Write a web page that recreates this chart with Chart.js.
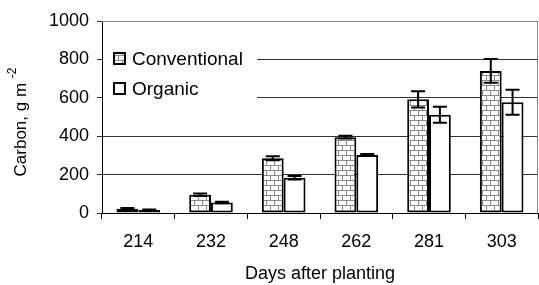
<!DOCTYPE html>
<html>
<head>
<meta charset="utf-8">
<script src="https://cdn.jsdelivr.net/npm/chart.js@4/dist/chart.umd.min.js"></script>
<style>
  html, body { margin: 0; padding: 0; background: #fff; }
  #wrap { width: 539px; height: 285px; }
</style>
</head>
<body>
<div id="wrap"><canvas id="barChart" width="539" height="285"></canvas></div>
<script>
// values (Carbon, g m-2)
var days = ["214", "232", "248", "262", "281", "303"];
var conventional = [22, 95, 285, 395, 592, 740];
var organic = [15, 55, 184, 302, 512, 577];
var convErr = [4, 7, 10, 7, 42, 62];
var orgErr = [3, 4, 9, 5, 42, 65];
var yTicks = [0, 200, 400, 600, 800, 1000];

var font = "'Liberation Sans', Arial, sans-serif";

/* brick pattern for the conventional bars */
function makeBrick() {
    var c = document.createElement('canvas');
    c.width = 16; c.height = 10;
    var g = c.getContext('2d');
    g.fillStyle = '#fff';
    g.fillRect(0, 0, 16, 10);
    g.fillStyle = '#8a8a8a';
    g.fillRect(0, 0, 16, 1);
    g.fillRect(0, 5, 16, 1);
    g.fillRect(2, 0, 1, 5);
    g.fillRect(10, 0, 1, 5);
    g.fillRect(6, 5, 1, 5);
    g.fillRect(14, 5, 1, 5);
    return g.createPattern(c, 'repeat');
}
var brick = makeBrick();

var errorBars = {
    id: 'errorBars',
    afterDatasetsDraw: function(chart) {
        var ctx = chart.ctx, y = chart.scales.y;
        var errs = [convErr, orgErr];
        ctx.save();
        ctx.strokeStyle = '#000';
        ctx.lineWidth = 2;
        chart.data.datasets.forEach(function(ds, i) {
            chart.getDatasetMeta(i).data.forEach(function(bar, j) {
                var v = ds.data[j], e = errs[i][j];
                var yt = y.getPixelForValue(v + e), yb = y.getPixelForValue(v - e);
                ctx.beginPath();
                ctx.moveTo(bar.x, yt); ctx.lineTo(bar.x, yb);
                ctx.moveTo(bar.x - 7, yt); ctx.lineTo(bar.x + 7, yt);
                ctx.moveTo(bar.x - 7, yb); ctx.lineTo(bar.x + 7, yb);
                ctx.stroke();
            });
        });
        ctx.restore();
    }
};

var frame = {
    id: 'frame',
    beforeDatasetsDraw: function(chart) {
        var ctx = chart.ctx, a = chart.chartArea;
        ctx.save();
        ctx.strokeStyle = '#8c8c8c';
        ctx.lineWidth = 1;
        ctx.beginPath();
        ctx.moveTo(a.left, a.top + 0.5); ctx.lineTo(a.right - 0.5, a.top + 0.5);
        ctx.lineTo(a.right - 0.5, a.bottom);
        ctx.stroke();
        // legend box covers the grid
        ctx.fillStyle = '#fff';
        ctx.fillRect(a.left + 1, 44, 154, 60);
        var items = [[brick, 'Conventional', 59], ['#fff', 'Organic', 89]];
        ctx.font = '19px ' + font;
        ctx.textBaseline = 'middle';
        items.forEach(function(it) {
            ctx.fillStyle = it[0];
            ctx.fillRect(114, it[2] - 6, 11, 11);
            ctx.strokeStyle = '#000';
            ctx.lineWidth = 2;
            ctx.strokeRect(114, it[2] - 6, 11, 11);
            ctx.fillStyle = '#000';
            ctx.fillText(it[1], 132, it[2] + 1);
        });
        // y axis title with superscript
        ctx.translate(21, 122);
        ctx.rotate(-Math.PI / 2);
        ctx.font = '17px ' + font;
        var main = 'Carbon, g m ';
        var w = ctx.measureText(main).width;
        ctx.font = '12px ' + font;
        var w2 = ctx.measureText('-2').width;
        var x0 = -(w + w2) / 2;
        ctx.textAlign = 'left';
        ctx.font = '17px ' + font;
        ctx.fillText(main, x0, 0);
        ctx.font = '12px ' + font;
        ctx.fillText('-2', x0 + w, -8);
        ctx.restore();
    }
};

var ctxB = document.getElementById('barChart');
var myBarChart = new Chart(ctxB, {
    type: 'bar',
    data: {
        labels: days,
        datasets: [{
            label: "Conventional",
            data: conventional,
            backgroundColor: brick,
            borderColor: '#000',
            borderWidth: 2,
            borderSkipped: false
        }, {
            label: "Organic",
            data: organic,
            backgroundColor: '#fff',
            borderColor: '#000',
            borderWidth: 2,
            borderSkipped: false
        }]
    },
    options: {
        responsive: false,
        animation: false,
        layout: { padding: { top: 21, right: 1, left: 0, bottom: 0 } },
        categoryPercentage: 0.6,
        barPercentage: 1.0,
        plugins: {
            legend: { display: false },
            tooltip: { enabled: false }
        },
        scales: {
            x: {
                grid: { offset: true, drawOnChartArea: false, color: '#000', tickLength: 6 },
                border: { color: '#000', width: 1 },
                ticks: { color: '#000', font: { family: font, size: 18 }, padding: 12 },
                title: { display: true, text: 'Days after planting', color: '#000', font: { family: font, size: 18 }, padding: { top: 2, bottom: 0 } },
                afterFit: function(s) { s.height = 72; }
            },
            y: {
                min: 0, max: 1000,
                afterBuildTicks: function(s) { s.ticks = yTicks.map(function(v) { return { value: v }; }); },
                grid: { color: '#333', tickLength: 5 },
                border: { color: '#000', width: 1 },
                ticks: { color: '#000', font: { family: font, size: 18 }, padding: 8,
                    callback: function(v) { return String(v); } },
                afterFit: function(s) { s.width = 102; }
            }
        }
    },
    plugins: [frame, errorBars]
});
</script>
</body>
</html>
